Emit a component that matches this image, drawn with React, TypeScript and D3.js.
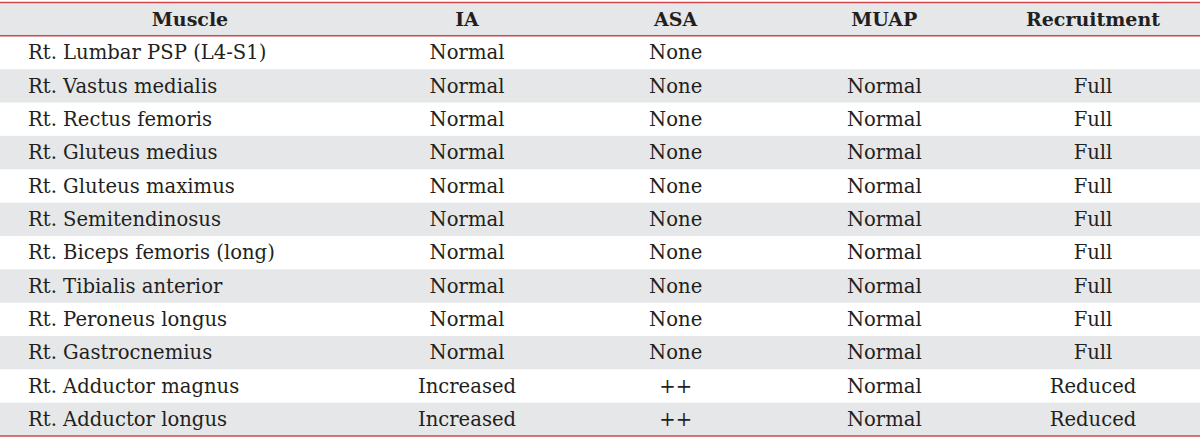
import React from 'react';
import * as d3 from 'd3';

const headers = ['Muscle', 'IA', 'ASA', 'MUAP', 'Recruitment'];
const muscles = [
  'Rt. Lumbar PSP (L4-S1)',
  'Rt. Vastus medialis',
  'Rt. Rectus femoris',
  'Rt. Gluteus medius',
  'Rt. Gluteus maximus',
  'Rt. Semitendinosus',
  'Rt. Biceps femoris (long)',
  'Rt. Tibialis anterior',
  'Rt. Peroneus longus',
  'Rt. Gastrocnemius',
  'Rt. Adductor magnus',
  'Rt. Adductor longus',
];
const ia = ['Normal', 'Normal', 'Normal', 'Normal', 'Normal', 'Normal', 'Normal', 'Normal', 'Normal', 'Normal', 'Increased', 'Increased'];
const asa = ['None', 'None', 'None', 'None', 'None', 'None', 'None', 'None', 'None', 'None', '++', '++'];
const muap = ['', 'Normal', 'Normal', 'Normal', 'Normal', 'Normal', 'Normal', 'Normal', 'Normal', 'Normal', 'Normal', 'Normal'];
const recruitment = ['', 'Full', 'Full', 'Full', 'Full', 'Full', 'Full', 'Full', 'Full', 'Full', 'Reduced', 'Reduced'];

const W = 1200;
const H = 438;
const RED = '#d2464b';
const GRAY = '#e6e7e8';
const INK = '#231f20';
const FONT = '"DejaVu Serif", serif';

export default function App() {
  const y = d3.scaleBand<string>()
    .domain(['__header', ...muscles])
    .range([2.5, 436]);

  // centres of the value columns
  const col = d3.scaleLinear().domain([1, 4]).range([467, 1093]);
  const muscleHeaderX = 190;
  const muscleLeft = 28;

  const valueCols = [ia, asa, muap, recruitment];

  return (
    <svg width={W} height={H} viewBox={`0 0 ${W} ${H}`}
      style={{ position: 'absolute', left: 0, top: 0, background: '#fff' }}>
      {/* header band */}
      <rect x={0} y={y('__header')} width={W} height={y.bandwidth()} fill={GRAY} />
      {muscles.map((m, i) => i % 2 === 1 ? (
        <rect key={m} x={0} y={y(m)} width={W} height={y.bandwidth()} fill={GRAY} />
      ) : null)}

      {/* rules */}
      <line x1={0} x2={W} y1={y('__header')} y2={y('__header')} stroke={RED} strokeWidth={1.5} />
      <line x1={0} x2={W} y1={y(muscles[0])} y2={y(muscles[0])} stroke={RED} strokeWidth={1.5} />
      <line x1={0} x2={W} y1={y.range()[1]} y2={y.range()[1]} stroke={RED} strokeWidth={1.5} />

      {/* header text */}
      {headers.map((h, i) => (
        <text key={h}
          x={i === 0 ? muscleHeaderX : col(i)}
          y={(y('__header') as number) + y.bandwidth() / 2}
          dy="0.35em" textAnchor="middle"
          fontFamily={FONT} fontWeight="bold" fontSize={19} fill={INK}>
          {h}
        </text>
      ))}

      {/* body */}
      {muscles.map((m, i) => {
        const cy = (y(m) as number) + y.bandwidth() / 2;
        return (
          <g key={m} fontFamily={FONT} fontSize={19.6} fill={INK}>
            <text x={muscleLeft} y={cy} dy="0.35em">{m}</text>
            {valueCols.map((vals, j) => vals[i] ? (
              <text key={j} x={col(j + 1)} y={cy} dy="0.35em" textAnchor="middle">{vals[i]}</text>
            ) : null)}
          </g>
        );
      })}
    </svg>
  );
}
